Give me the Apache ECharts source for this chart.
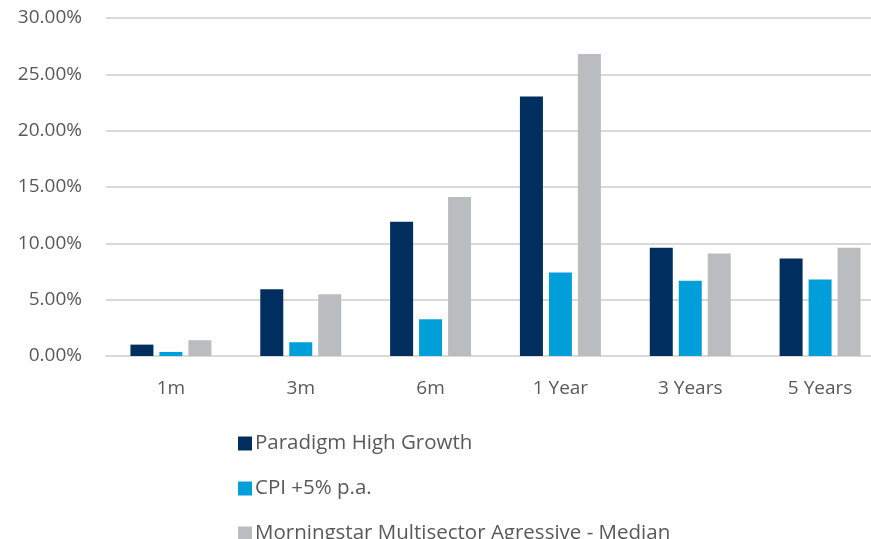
<!DOCTYPE html>
<html>
<head>
<meta charset="utf-8">
<script src="https://cdn.jsdelivr.net/npm/echarts@6/dist/echarts.min.js"></script>
<style>
  html, body { margin: 0; padding: 0; background: #fff; }
  #chart { width: 871px; height: 539px; }
</style>
</head>
<body>
<div id="chart"></div>
<script>
// periods on the x axis
var periods = ['1m', '3m', '6m', '1 Year', '3 Years', '5 Years'];
// returns in percent
var paradigm = [1.01, 5.93, 11.92, 23.03, 9.60, 8.66];
var cpi = [0.36, 1.22, 3.26, 7.41, 6.67, 6.79];
var morningstar = [1.40, 5.49, 14.11, 26.80, 9.10, 9.60];
var seriesNames = ['Paradigm High Growth', 'CPI +5% p.a.', 'Morningstar Multisector Agressive - Median'];

var txt = '#595959';
var font = 'Open Sans';

var myChart = echarts.init(document.getElementById('chart'));
myChart.setOption({
  animation: false,
  color: ['#002F5F', '#009FDA', '#BBBCC0'],
  textStyle: { fontFamily: font, color: txt },
  grid: {
    left: 106,
    width: 779,
    top: 18,
    bottom: 183,
    outerBoundsMode: 'none'
  },
  legend: {
    orient: 'vertical',
    left: 233,
    top: 428,
    height: 200,
    itemWidth: 14,
    itemHeight: 14,
    itemGap: 24,
    icon: 'rect',
    textStyle: { fontFamily: font, fontSize: 20.5, color: txt, padding: [0, 0, 0, -2] },
    data: seriesNames
  },
  xAxis: {
    type: 'category',
    data: periods,
    axisLine: { lineStyle: { color: '#D9D9D9', width: 2 } },
    axisTick: { show: false },
    axisLabel: { fontFamily: font, fontSize: 19, color: txt, margin: 23 }
  },
  yAxis: {
    type: 'value',
    min: 0,
    max: 30,
    interval: 5,
    axisLine: { show: false },
    axisTick: { show: false },
    splitLine: { lineStyle: { color: '#D9D9D9', width: 2 } },
    axisLabel: {
      fontFamily: font, fontSize: 19, color: txt, margin: 24,
      formatter: function (v) { return v.toFixed(2) + '%'; }
    }
  },
  series: [{
    name: seriesNames[0],
    type: 'bar',
    barWidth: 23,
    barGap: '26%',
    data: paradigm
  }, {
    name: seriesNames[1],
    type: 'bar',
    barWidth: 23,
    barGap: '26%',
    data: cpi
  }, {
    name: seriesNames[2],
    type: 'bar',
    barWidth: 23,
    barGap: '26%',
    data: morningstar
  }]
});
</script>
</body>
</html>
